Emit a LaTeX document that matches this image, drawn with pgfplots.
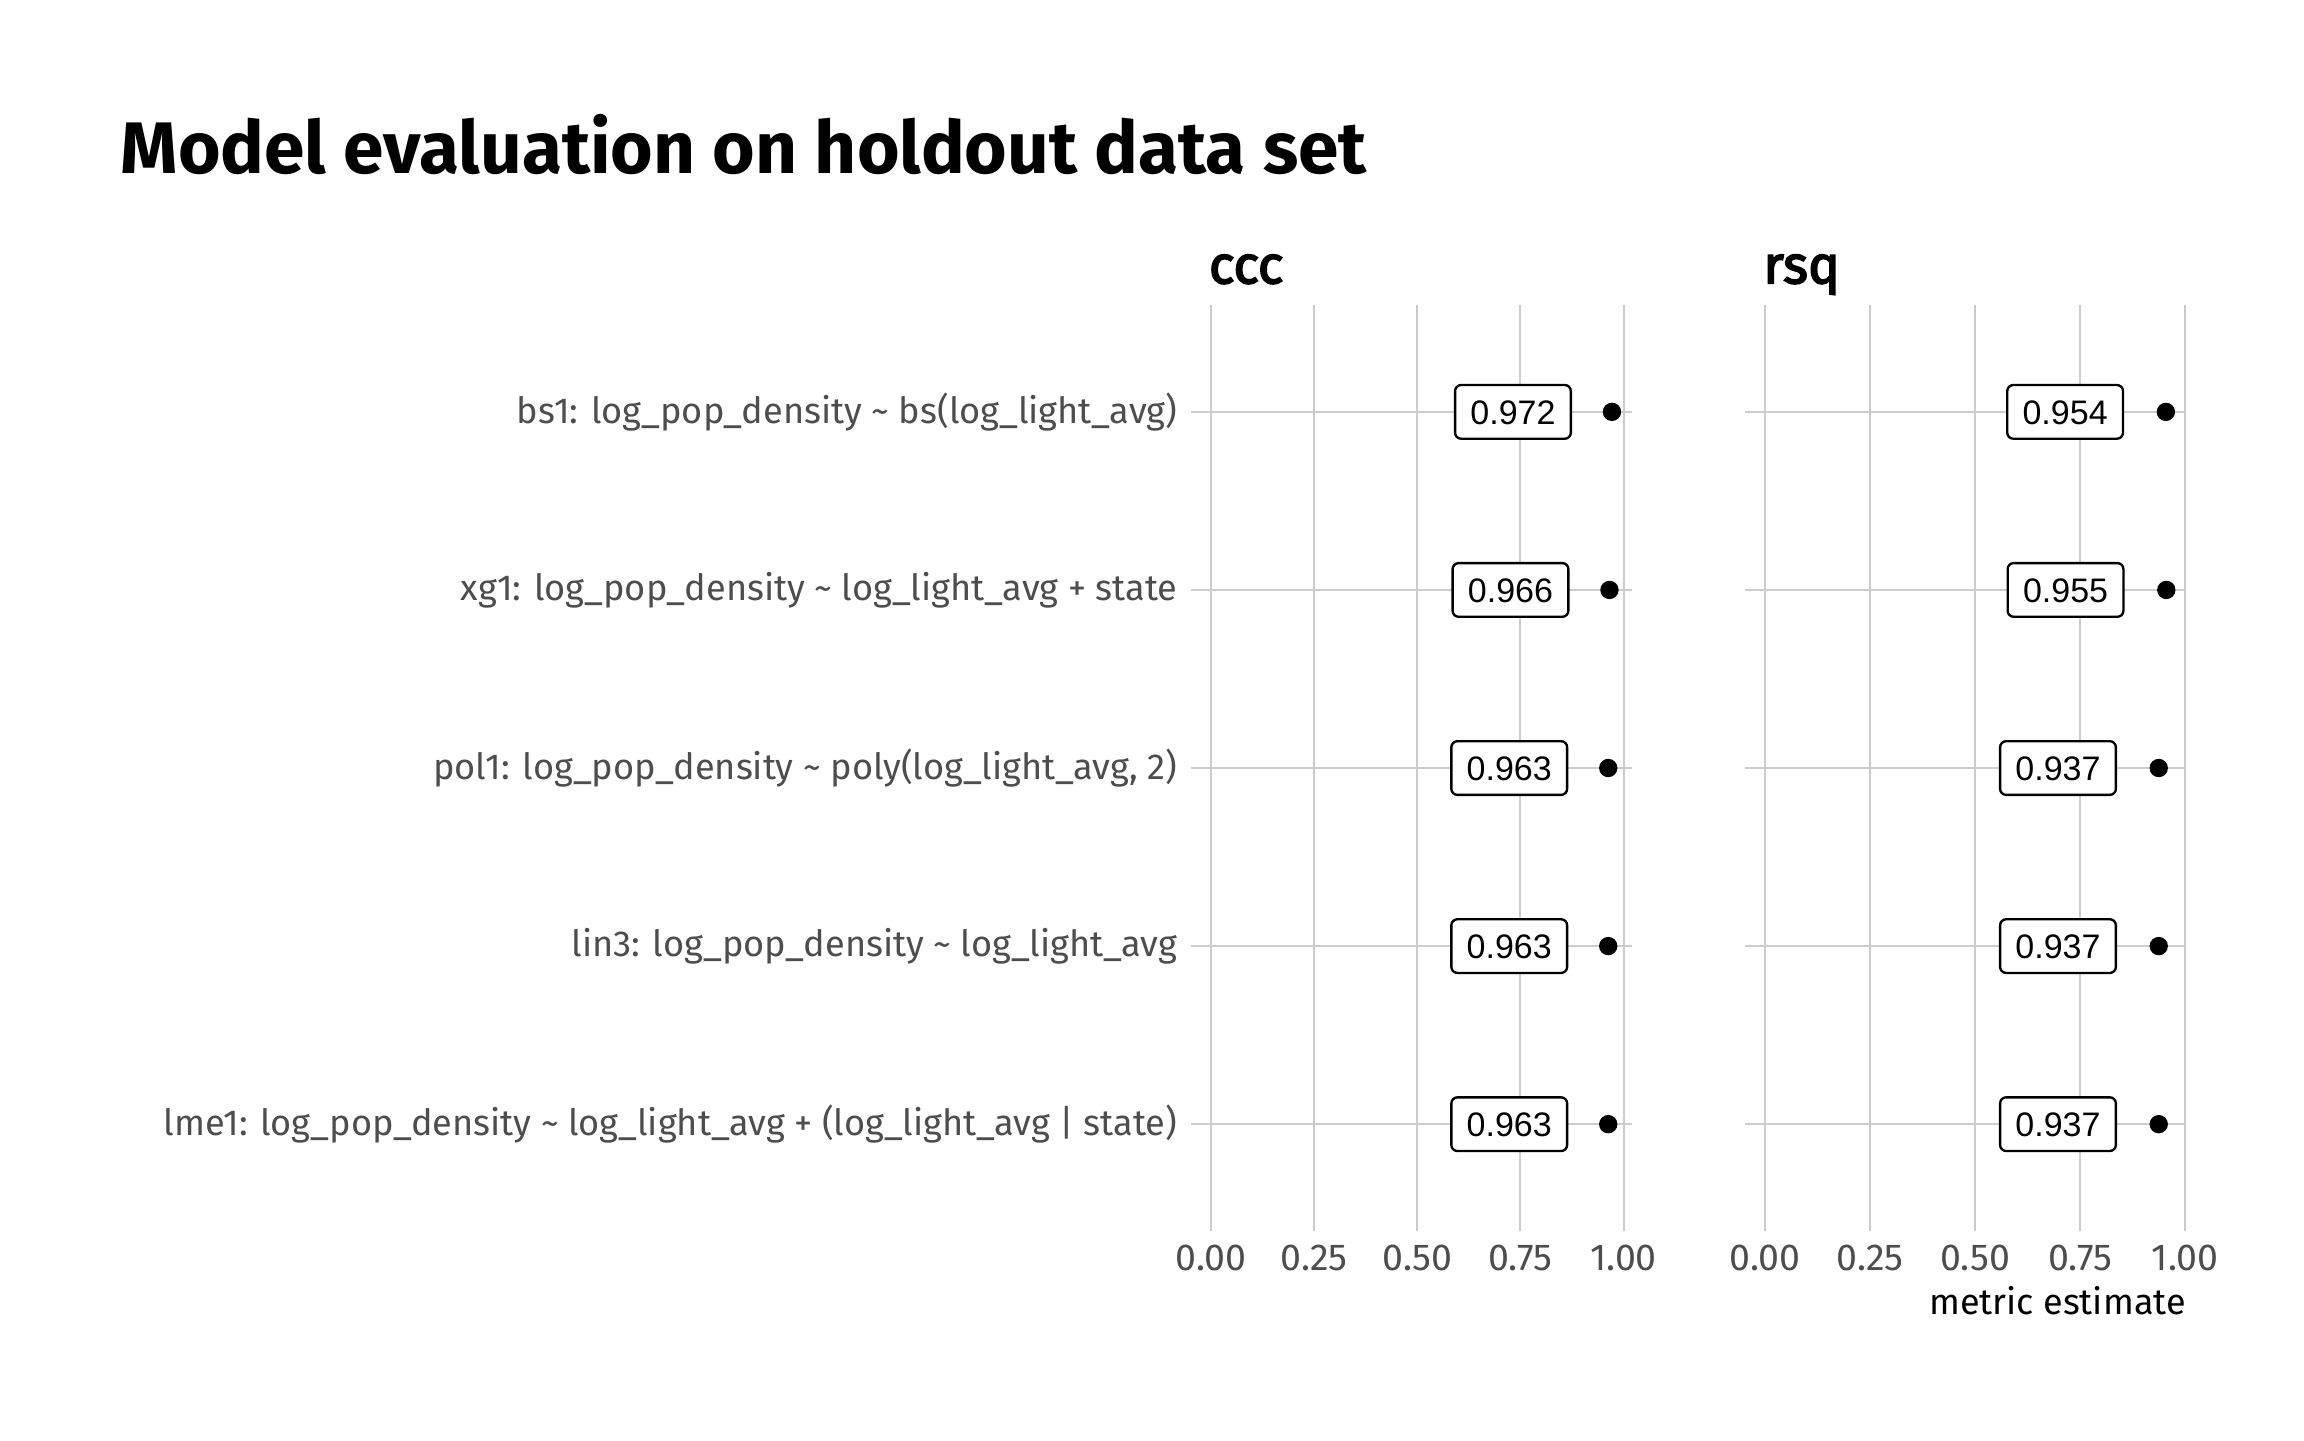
\documentclass[border=0pt]{standalone}
\usepackage{fontspec}
\setmainfont{Fira Sans}
\newfontfamily\labelfont{Liberation Sans}
\usepackage{pgfplots}
\pgfplotsset{compat=1.18}
\usepackage{pgfplotstable}
\definecolor{gridc}{HTML}{CCCCCC}
\definecolor{axisc}{HTML}{4D4D4D}
\newcommand{\medtext}[1]{\special{pdf:code q 2 Tr 0.5 w 0 G}#1\special{pdf:code 0 Tr Q}}

\pgfplotstableread{
y est
5 0.972
4 0.966
3 0.963
2 0.963
1 0.963
}\ccctab
\pgfplotstableread{
y est
5 0.954
4 0.955
3 0.937
2 0.937
1 0.937
}\rsqtab

\pgfplotsset{panel/.style={
  scale only axis, width=132.3pt, height=277.8pt,
  ymin=0.4, ymax=5.6, ytick={1,2,3,4,5},
  xtick={0,0.25,0.5,0.75,1},
  xticklabels={0.00,0.25,0.50,0.75,1.00},
  axis line style={draw=none}, major tick length=0pt,
  xmajorgrids, ymajorgrids,
  major grid style={color=gridc, line width=0.6pt},
  tick label style={font=\fontsize{11.25}{13}\selectfont, text=axisc},
  xticklabel style={anchor=north, inner sep=0pt, yshift=-3.9pt},
  yticklabel style={anchor=east, inner sep=0pt, xshift=-3.9pt, font=\fontsize{10.85}{13}\selectfont},
  title style={at={(rel axis cs:0,1)}, anchor=base west, inner sep=0pt, xshift=5.2pt, yshift=0.5pt, font=\fontsize{16}{19}\selectfont},
  clip=false,
},
dots/.style={only marks, mark=*, mark size=2.55pt, black},
boxes/.style={only marks, mark=none, point meta=explicit symbolic,
  nodes near coords={\pgfplotspointmeta},
  nodes near coords style={anchor=center, draw=black, fill=white, line width=0.7pt, rounded corners=1.8pt,
    font=\labelfont\fontsize{10.2}{12}\selectfont, text=black,
    text height=7.3pt, text depth=0pt, inner xsep=4.6pt, inner ysep=4.4pt}},
}

\begin{document}
\begin{tikzpicture}
\path[use as bounding box] (0,0) rectangle (691.2pt,-432pt);
\node[anchor=base west, inner sep=0pt, font=\fontsize{21.9}{26}\selectfont\bfseries] at (36pt,-51.9pt) {Model evaluation on holdout data set};

\begin{axis}[panel, at={(357.3pt,-91.5pt)}, anchor=north west,
  xmin=-0.0486, xmax=1.0206, title={\medtext{ccc}},
  yticklabels={{lme1: log\_pop\_density \textasciitilde{} log\_light\_avg + (log\_light\_avg | state)},
               {lin3: log\_pop\_density \textasciitilde{} log\_light\_avg},
               {pol1: log\_pop\_density \textasciitilde{} poly(log\_light\_avg, 2)},
               {xg1: log\_pop\_density \textasciitilde{} log\_light\_avg + state},
               {bs1: log\_pop\_density \textasciitilde{} bs(log\_light\_avg)}}]
\addplot[boxes] table[x expr=\thisrow{est}-0.24, y=y, meta=est] {\ccctab};
\addplot[dots] table[x=est, y=y] {\ccctab};
\end{axis}

\begin{axis}[panel, at={(523.6pt,-91.5pt)}, anchor=north west,
  xmin=-0.04775, xmax=1.00275, title={\medtext{rsq}}, yticklabels={},
  xlabel={metric estimate},
  xlabel style={at={(rel axis cs:1,0)}, anchor=base east, inner sep=0pt, yshift=-24.9pt, font=\fontsize{10.8}{13}\selectfont, text=black}]
\addplot[boxes] table[x expr=\thisrow{est}-0.24, y=y, meta=est] {\rsqtab};
\addplot[dots] table[x=est, y=y] {\rsqtab};
\end{axis}
\end{tikzpicture}
\end{document}
